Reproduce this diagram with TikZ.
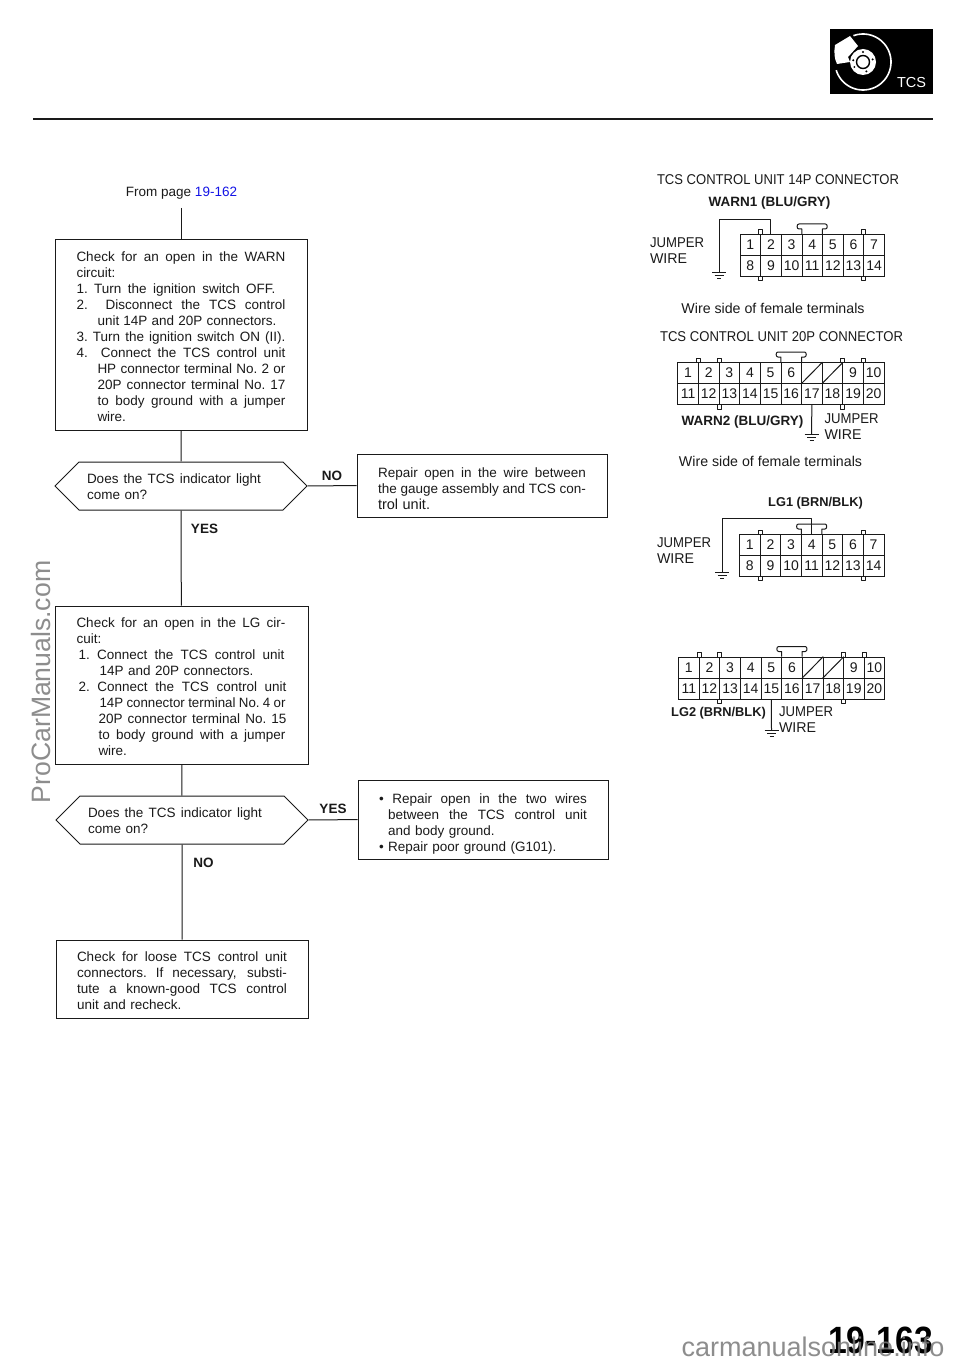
\documentclass[tikz,border=0pt]{standalone}
\usepackage{fontspec}
\usepackage{graphicx}
\setmainfont{Liberation Sans}
\usetikzlibrary{shapes.symbols,calc}
\definecolor{ink}{HTML}{1A1A1A}
\definecolor{linkblue}{HTML}{1414E6}
\definecolor{wm}{HTML}{7A7A7A}
\newsavebox{\fitbox}
\newcommand{\wsp}{\spaceskip=.25em plus 1em minus .02em\xspaceskip=\spaceskip}
% justified line: stretches the word spaces, or condenses the glyphs if too long
\newcommand{\jl}[2]{\sbox{\fitbox}{\wsp #2}\ifdim\wd\fitbox>#1pt\relax\resizebox{#1pt}{\height}{\usebox{\fitbox}}\else\makebox[#1pt][s]{\wsp #2}\fi}
\newcommand{\il}[3]{\hspace*{#1pt}\jl{#2}{#3}}
\newcommand{\fitw}[2]{\resizebox{#1pt}{\height}{#2}}
\newcommand{\tp}[1]{\rule{0pt}{#1pt}}
\tikzset{
  body/.style={font=\fontsize{13.5}{16}\selectfont,text=ink},
  stepbox/.style={body,draw=ink,line width=1pt,align=left,inner xsep=0pt,inner ysep=0pt},
  ask/.style={body,draw=ink,line width=1pt,shape=signal,signal to=west and east,signal pointer angle=90,
     minimum width=252pt,minimum height=48pt,inner sep=0pt,text width=188pt,align=left},
  flow/.style={draw=ink,line width=1pt},
  answer/.style={font=\fontsize{13.5}{16}\bfseries\selectfont,text=ink,inner sep=0pt},
  caption/.style={font=\fontsize{14.2}{16}\selectfont,text=ink,inner sep=0pt},
  pinlabel/.style={font=\fontsize{12.8}{16}\bfseries\selectfont,text=ink,inner sep=0pt},
  pinlabelw/.style={font=\fontsize{13.5}{16}\bfseries\selectfont,text=ink,inner sep=0pt},
  cell/.style={draw=ink,line width=0.7pt,inner sep=0pt,minimum width=20.62pt,minimum height=21pt,
     font=\fontsize{14}{16}\selectfont,text=ink},
  hw/.style={draw=ink,line width=1pt,line join=round},
}
\newcommand{\keytab}[3]{\draw[hw] ({#1-2},#2) -- ({#1-2},{#2+#3*4}) -- ({#1+2},{#2+#3*4}) -- ({#1+2},#2);}
\newcommand{\hood}[3]{\draw[hw] (#1,#3) -- (#1,{#3-5}) -- ({#1-3},{#3-5}) to[out=180,in=180,looseness=1.2] ({#1-3},{#3-10}) -- ({#2+3},{#3-10}) to[out=0,in=0,looseness=1.2] ({#2+3},{#3-5}) -- (#2,{#3-5}) -- (#2,#3);}
\newcommand{\earth}[1]{\draw[hw] ($(#1)+(-7,0)$) -- ($(#1)+(7,0)$) ($(#1)+(-4.5,3)$) -- ($(#1)+(4.5,3)$) ($(#1)+(-2,6)$) -- ($(#1)+(2,6)$);}
\newcommand{\conXIV}[3]{%
  \foreach \i/\t in {0/1,1/2,2/3,3/4,4/5,5/6,6/7}
    \node[cell] (#1\t) at ({#2+20.62*(\i+.5)},{#3+10.5}) {\t};
  \foreach \i/\t in {0/8,1/9,2/10,3/11,4/12,5/13,6/14}
    \node[cell] (#1\t) at ({#2+20.62*(\i+.5)},{#3+31.5}) {\t};
  \keytab{#2+20.62}{#3}{-1}\keytab{#2+20.62*6}{#3}{-1}
  \keytab{#2+20.62}{#3+42}{1}\keytab{#2+20.62*6}{#3+42}{1}
  \hood{#2+20.62*3}{#2+20.62*4}{#3}
}
\newcommand{\conXX}[3]{%
  \foreach \i/\t in {0/1,1/2,2/3,3/4,4/5,5/6,6/,7/,8/9,9/10}
    \node[cell] (#1t\i) at ({#2+20.62*(\i+.5)},{#3+11}) {\t};
  \foreach \i/\t in {0/11,1/12,2/13,3/14,4/15,5/16,6/17,7/18,8/19,9/20}
    \node[cell] (#1\t) at ({#2+20.62*(\i+.5)},{#3+32}) {\t};
  \draw[hw] (#1t6.south west) -- (#1t6.north east) (#1t7.south west) -- (#1t7.north east);
  \keytab{#2+20.62}{#3}{-1}\keytab{#2+20.62*2}{#3}{-1}\keytab{#2+20.62*8}{#3}{-1}\keytab{#2+20.62*9}{#3}{-1}
  \keytab{#2+20.62*2}{#3+43}{1}\keytab{#2+20.62*8}{#3+43}{1}
  \hood{#2+20.62*5}{#2+20.62*6}{#3}
}
\begin{document}
\begin{tikzpicture}[x=1pt,y=-1pt]
\useasboundingbox (0,0) rectangle (960,1364);
\fill[white] (0,0) rectangle (960,1364);

% header
\draw[draw=ink,line width=2.4pt] (33,119) -- (933,119);
\fill[black] (830,29) rectangle (933,94);
\fill[white] (835,45) -- (850,36) -- (858,46) -- (848,57) -- (850,62) -- (837,64) .. controls (834,58) and (834,52) .. (835,45) -- cycle;
\draw[white,line width=1.6pt] plot[domain=197:470,samples=60,smooth] ({863+28*cos(\x)},{62-28*sin(\x)});
\fill[white] (863,62) circle[radius=13];
\draw[black,line width=1.4pt] (863,62) circle[radius=6.5];
\foreach \a in {90,15,-70,-150,170} \fill[black] ({863+10*cos(\a)},{62-10*sin(\a)}) circle[radius=1.1];
\node[font=\fontsize{14.5}{15}\selectfont,text=white,inner sep=0pt] (badge) at (911.5,82.5) {TCS};

% left flow
\coordinate (from) at (181,208);
\node[body,inner sep=0pt] (fromtext) at (181.5,193) {From page \textcolor{linkblue}{19-162}};

\node[stepbox,minimum width=252pt,minimum height=190pt,text width=209pt] (b1) at (181,335) {%
\tp{14}\jl{209}{Check for an open in the WARN}\\
circuit:\\
\jl{199}{1. Turn the ignition switch OFF.}\\
\jl{209}{2. \ Disconnect the TCS control}\\
\il{21}{179}{unit 14P and 20P connectors.}\\
\jl{209}{3. Turn the ignition switch ON (II).}\\
\jl{209}{4. \ Connect the TCS control unit}\\
\il{21}{188}{HP connector terminal No. 2 or}\\
\il{21}{188}{20P connector terminal No. 17}\\
\il{21}{188}{to body ground with a jumper}\\
\hspace*{21pt}wire.};

\node[ask] (d1) at (181,486) {\tp{12}\jl{174}{Does the TCS indicator light}\\come on?};

\node[stepbox,minimum width=250pt,minimum height=63pt,text width=208pt] (r1) at (482,485.5) {%
\tp{16}\jl{208}{Repair open in the wire between}\\
\jl{208}{the gauge assembly and TCS con-}\\
{\fontsize{14.5}{16}\selectfont trol unit.}};

\node[stepbox,minimum width=253pt,minimum height=158pt,text width=210pt] (b2) at (181.5,685) {%
\tp{13}\jl{209}{Check for an open in the LG cir-}\\
cuit:\\
\il{2}{206}{1. Connect the TCS control unit}\\
\hspace*{23pt}14P and 20P connectors.\\
\il{2}{208}{2. Connect the TCS control unit}\\
\il{23}{186}{14P connector terminal No. 4 or}\\
\il{22}{188}{20P connector terminal No. 15}\\
\il{22}{187}{to body ground with a jumper}\\
\hspace*{22pt}wire.};

\node[ask] (d2) at (182,820) {\tp{12}\jl{174}{Does the TCS indicator light}\\come on?};

\node[stepbox,minimum width=250pt,minimum height=79pt,text width=208pt] (r2) at (483,819.5) {%
\tp{18}\jl{208}{• Repair open in the two wires}\\
\il{9}{199}{between the TCS control unit}\\
\hspace*{9pt}and body ground.\\
• Repair poor ground (G101).};

\node[stepbox,minimum width=252pt,minimum height=78pt,text width=210pt] (b3) at (182,979) {%
\tp{14}\jl{210}{Check for loose TCS control unit}\\
\jl{210}{connectors. If necessary, substi-}\\
\jl{210}{tute a known-good TCS control}\\
unit and recheck.};

\draw[flow] (from) -- (b1);
\draw[flow] (b1) -- (d1);
\draw[flow] (d1) -- (b2);
\draw[flow] (b2) -- (d2);
\draw[flow] (d2) -- (b3);
\draw[flow] (d1) -- (r1);
\draw[flow] (d2) -- (r2);

\node[answer] (no1) at (332,475.5) {NO};
\node[answer] (yes1) at (204.5,528.5) {YES};
\node[answer] (yes2) at (333,808.5) {YES};
\node[answer] (no2) at (203.5,862.5) {NO};

% 14P WARN1
\node[caption] (t14) at (778,179.5) {\fitw{242}{TCS CONTROL UNIT 14P CONNECTOR}};
\node[pinlabelw] (warn1) at (769.5,203) {WARN1 (BLU/GRY)};
\node[caption,align=left] (jw1) at (677,250.5) {\fitw{54}{JUMPER}\\WIRE};
\conXIV{a}{740}{234}
\coordinate (a1c) at (719,220);
\coordinate (a1g) at (719,272);
\draw[hw] (a2.north) |- (a1c) -- (a1g);
\earth{a1g}
\node[caption] (ws1) at (773,308) {Wire side of female terminals};

% 20P WARN2
\node[caption] (t20) at (781.5,336.5) {\fitw{243}{TCS CONTROL UNIT 20P CONNECTOR}};
\conXX{b}{677.8}{362}
\coordinate (b1g) at (811.6,434);
\draw[hw] (b17.south) -- (b1g);
\earth{b1g}
\node[pinlabelw] (warn2) at (742.5,422) {WARN2 (BLU/GRY)};
\node[caption,align=left] (jw2) at (851.5,426.5) {\fitw{54}{JUMPER}\\WIRE};
\node[caption] (ws2) at (770.5,461.5) {Wire side of female terminals};

% 14P LG1
\node[pinlabel] (lg1) at (815.5,503) {LG1 (BRN/BLK)};
\node[caption,align=left] (jw3) at (684,551) {\fitw{54}{JUMPER}\\WIRE};
\conXIV{c}{739.5}{534}
\coordinate (c1c) at (722,518);
\coordinate (c1g) at (722,572);
\draw[hw] (c4.north) |- (c1c) -- (c1g);
\earth{c1g}

% 20P LG2
\conXX{d}{678.5}{656.5}
\coordinate (d1g) at (771.5,730);
\draw[hw] (d15.south) -- (d1g);
\earth{d1g}
\node[pinlabel] (lg2) at (718.5,713) {LG2 (BRN/BLK)};
\node[caption,align=left] (jw4) at (806,719.5) {\fitw{54}{JUMPER}\\WIRE};

% page number and watermarks
\node[font=\fontsize{38}{40}\bfseries\selectfont,text=black,inner sep=0pt] (pageno) at (880.5,1340) {\fitw{105}{19-163}};
\node[font=\fontsize{27}{28}\selectfont,text=wm,opacity=.85,inner sep=0pt] (wm1) at (813,1347) {carmanualsonline.info};
\node[font=\fontsize{26.6}{30}\selectfont,text=wm,opacity=.85,inner sep=0pt,rotate=90] (wm2) at (41,682) {ProCarManuals.com};
\end{tikzpicture}
\end{document}
